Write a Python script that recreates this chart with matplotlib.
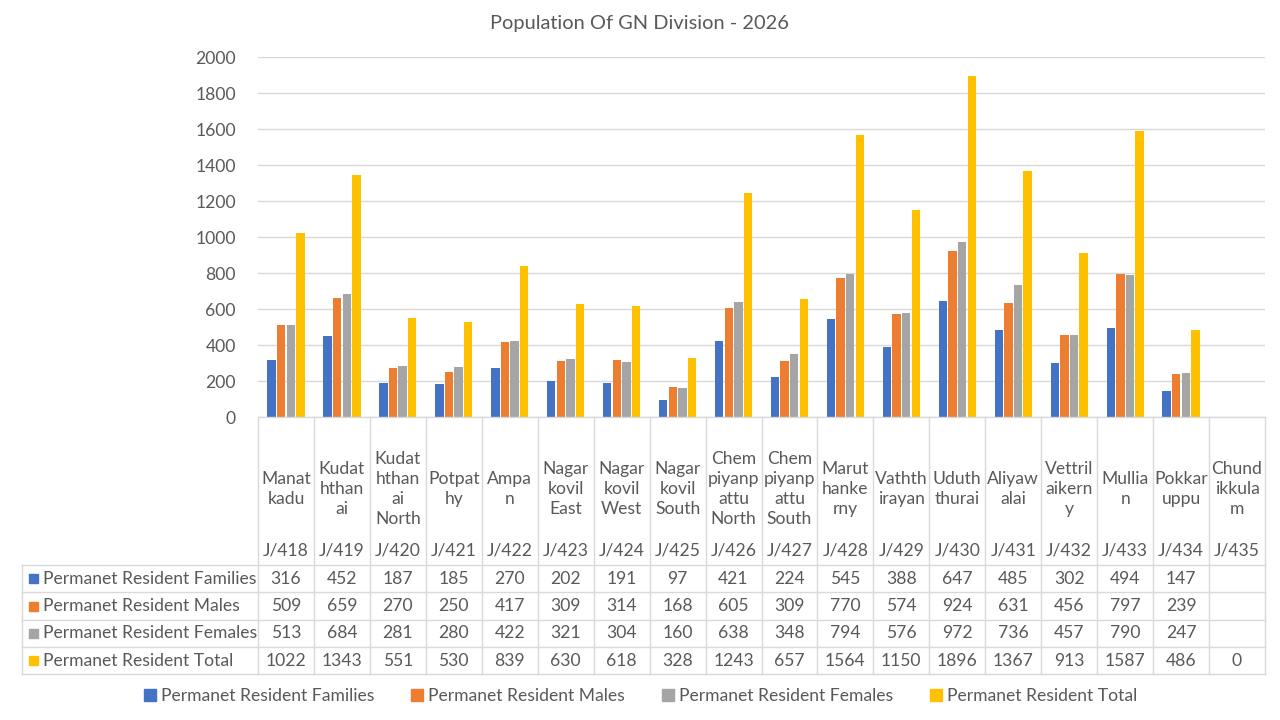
import matplotlib
matplotlib.use("Agg")
import matplotlib.pyplot as plt
from matplotlib.patches import Rectangle
from matplotlib.lines import Line2D

names = ["Manat\nkadu", "Kudat\nhthan\nai", "Kudat\nhthan\nai\nNorth", "Potpat\nhy", "Ampa\nn",
         "Nagar\nkovil\nEast", "Nagar\nkovil\nWest", "Nagar\nkovil\nSouth", "Chem\npiyanp\nattu\nNorth",
         "Chem\npiyanp\nattu\nSouth", "Marut\nhanke\nrny", "Vathth\nirayan", "Uduth\nthurai",
         "Aliyaw\nalai", "Vettril\naikern\ny", "Mullia\nn", "Pokkar\nuppu", "Chund\nikkula\nm"]
codes = ["J/418", "J/419", "J/420", "J/421", "J/422", "J/423", "J/424", "J/425", "J/426",
         "J/427", "J/428", "J/429", "J/430", "J/431", "J/432", "J/433", "J/434", "J/435"]
families = [316, 452, 187, 185, 270, 202, 191, 97, 421, 224, 545, 388, 647, 485, 302, 494, 147, None]
males = [509, 659, 270, 250, 417, 309, 314, 168, 605, 309, 770, 574, 924, 631, 456, 797, 239, None]
females = [513, 684, 281, 280, 422, 321, 304, 160, 638, 348, 794, 576, 972, 736, 457, 790, 247, None]
total = [1022, 1343, 551, 530, 839, 630, 618, 328, 1243, 657, 1564, 1150, 1896, 1367, 913, 1587, 486, 0]
series_names = ["Permanet Resident Families", "Permanet Resident Males",
                "Permanet Resident Females", "Permanet Resident Total"]
colors = ["#4472C4", "#ED7D31", "#A5A5A5", "#FFC000"]
yticks = [0, 200, 400, 600, 800, 1000, 1200, 1400, 1600, 1800, 2000]

FONT = "Lato"
TXT = "#595959"
GRID = "#D9D9D9"
FS = 12.6
plt.rcParams["font.family"] = [FONT, "DejaVu Sans"]

W, H = 1280, 720
fig = plt.figure(figsize=(12.8, 7.2), dpi=100)
L, R, T, B = 258, 1265, 57, 417
ax = fig.add_axes([L / W, 1 - B / H, (R - L) / W, (B - T) / H])
n = len(names)
series = [families, males, females, total]
bw = 0.150
offs = [-1.5, -0.5, 0.5, 1.5]
for s, vals in enumerate(series):
    xs = [i + offs[s] * 0.172 for i, v in enumerate(vals) if v is not None]
    hs = [v for v in vals if v is not None]
    ax.bar(xs, hs, width=bw, color=colors[s], zorder=3)
ax.set_xlim(-0.5, n - 0.5)
ax.set_ylim(0, 2000)
ax.set_yticks(yticks)
ax.set_yticklabels([str(t) for t in yticks], fontsize=FS, color=TXT)
ax.tick_params(axis="y", length=0, pad=16)
ax.tick_params(axis="x", length=0, labelbottom=False)
ax.grid(axis="y", color=GRID, linewidth=1, zorder=0)
for sp in ax.spines.values():
    sp.set_visible(False)

# data table
tb_bottom = 674
tax = fig.add_axes([L / W, 1 - tb_bottom / H, (R - L) / W, (tb_bottom - B) / H])
tax.set_xlim(-0.5, n - 0.5)
tax.set_ylim(tb_bottom, B)
tax.axis("off")
colw = (R - L) / n
xl = -0.5 - (L - 22) / colw
rows_y = [565, 592, 620, 647, 674]
lk = dict(color=GRID, linewidth=1, clip_on=False)
tax.plot([-0.5, n - 0.5], [B, B], **lk)
for y in rows_y:
    tax.plot([xl, n - 0.5], [y, y], **lk)
for k in range(n + 1):
    tax.plot([-0.5 + k, -0.5 + k], [B, tb_bottom], **lk)
tax.plot([xl, xl], [rows_y[0], tb_bottom], **lk)

for i in range(n):
    tax.text(i, 489, names[i], ha="center", va="center", fontsize=FS, color=TXT,
             linespacing=1.33)
    tax.text(i, 551, codes[i], ha="center", va="center", fontsize=FS, color=TXT)
    for r, vals in enumerate(series):
        v = vals[i]
        if v is not None:
            yc = (rows_y[r] + rows_y[r + 1]) / 2
            tax.text(i, yc, str(v), ha="center", va="center", fontsize=FS, color=TXT)

for r, nm in enumerate(series_names):
    yc = (rows_y[r] + rows_y[r + 1]) / 2
    xm = xl + 7 / colw
    tax.add_patch(Rectangle((xm, yc - 4.5), 9 / colw, 9, color=colors[r], clip_on=False))
    tax.text(xl + 21 / colw, yc, nm, ha="left", va="center", fontsize=FS, color=TXT)

fig.text(0.5, 1 - 24 / H, "Population Of GN Division - 2026", ha="center", va="center",
         fontsize=14.4, color=TXT)

handles = [Line2D([], [], marker="s", linestyle="none", markersize=8, color=c) for c in colors]
fig.legend(handles, series_names, loc="center", bbox_to_anchor=(0.5, 1 - 696 / H), ncol=4,
           frameon=False, fontsize=FS, labelcolor=TXT, handletextpad=0.25, columnspacing=2.03,
           handlelength=0.8)

fig.savefig("out.png", dpi=100, facecolor="white")
